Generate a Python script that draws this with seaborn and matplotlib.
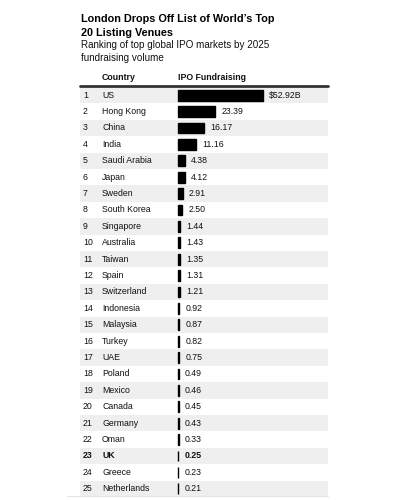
import matplotlib
matplotlib.use("Agg")
import matplotlib.pyplot as plt
import matplotlib.transforms as mtransforms
from matplotlib.lines import Line2D
import seaborn as sns

ranks = list(range(1, 26))
countries = ['US', 'Hong Kong', 'China', 'India', 'Saudi Arabia', 'Japan', 'Sweden',
             'South Korea', 'Singapore', 'Australia', 'Taiwan', 'Spain', 'Switzerland',
             'Indonesia', 'Malaysia', 'Turkey', 'UAE', 'Poland', 'Mexico', 'Canada',
             'Germany', 'Oman', 'UK', 'Greece', 'Netherlands']
ipo_values = [52.92, 23.39, 16.17, 11.16, 4.38, 4.12, 2.91, 2.50, 1.44, 1.43, 1.35,
              1.31, 1.21, 0.92, 0.87, 0.82, 0.75, 0.49, 0.46, 0.45, 0.43, 0.33, 0.25,
              0.23, 0.21]
value_labels = ['\\$52.92B'] + [f'{v:.2f}' for v in ipo_values[1:]]
highlight = 'UK'

sns.set_theme(style='white')
plt.rcParams['font.family'] = ['Liberation Sans', 'DejaVu Sans']

fig = plt.figure(figsize=(4, 5), dpi=100)
W, H = 400, 500
# table area: x 80..328 px, y 87..497 px
ax = fig.add_axes([80 / W, 1 - 497 / H, 248 / W, 410 / H])

# x=0 sits at 178 px, ~1.6 px per $B
px_per_unit = 1.6
x0 = -(178 - 80) / px_per_unit
ax.set_xlim(x0, x0 + 248 / px_per_unit)

# alternating row shading
for i in range(0, len(countries), 2):
    ax.axhspan(i - 0.5, i + 0.5, color='#efefef', zorder=0, lw=0)

sns.barplot(x=ipo_values, y=countries, orient='h', color='black', width=0.65,
            linewidth=1.0, edgecolor='black', saturation=1, ax=ax, zorder=2)
ax.set_ylim(len(countries) - 0.5, -0.5)
ax.set_axis_off()

fs = 6.3
ink = '#111111'
trans = mtransforms.blended_transform_factory(ax.transAxes, ax.transData)
for i, (r, c, v, lab) in enumerate(zip(ranks, countries, ipo_values, value_labels)):
    w = 'bold' if c == highlight else 'normal'
    ax.text(0.012, i, str(r), transform=trans, fontsize=fs, va='center',
            color=ink, fontweight=w)
    ax.text(0.089, i, c, transform=trans, fontsize=fs, va='center',
            color=ink, fontweight=w)
    ax.annotate(lab, xy=(v, i), xytext=(4.5, 0), textcoords='offset points',
                fontsize=fs, va='center', ha='left', color=ink, fontweight=w)

# header
ax.text(0.089, -1.1, 'Country', transform=trans, fontsize=fs, fontweight='bold',
        va='center', color=ink)
ax.text(0, -1.1, 'IPO Fundraising', fontsize=fs, fontweight='bold',
        va='center', color=ink, clip_on=False)
ax.axhline(-0.55, color='#333333', lw=2, clip_on=False, zorder=3)
fig.add_artist(Line2D([67 / W, 328 / W], [1 - 496 / H, 1 - 496 / H],
                      color='#e4e4e4', lw=0.8))

fig.text(81 / W, 1 - 13.5 / H, "London Drops Off List of World’s Top\n20 Listing Venues",
         fontsize=7.8, fontweight='bold', va='top', ha='left', linespacing=1.55,
         color='black')
fig.text(81 / W, 1 - 40.5 / H, "Ranking of top global IPO markets by 2025\nfundraising volume",
         fontsize=7.1, va='top', ha='left', linespacing=1.3, color=ink)

fig.savefig('out.png', dpi=100, facecolor='white')
